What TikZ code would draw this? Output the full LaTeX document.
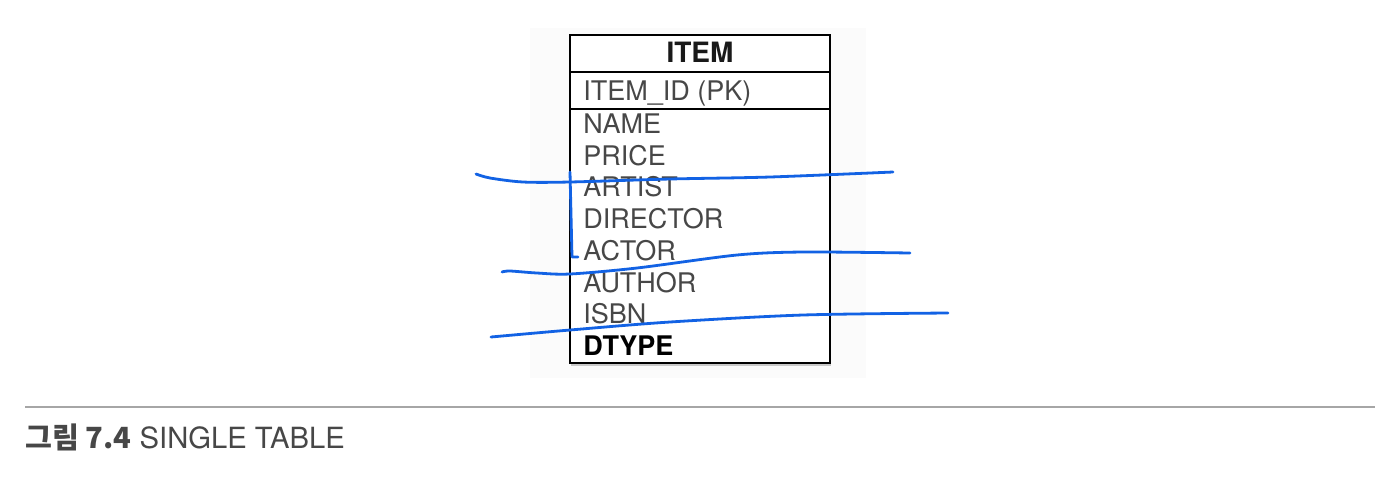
\documentclass[tikz,border=0pt]{standalone}
\usepackage{fontspec}
\setmainfont{TeX Gyre Heros}
\newfontfamily\krfont{Noto Sans CJK KR}
\usetikzlibrary{shadows}
\definecolor{penblue}{RGB}{18,98,228}

\begin{document}
\begin{tikzpicture}[x=0.5pt,y=-0.5pt,
        field/.style={anchor=base west,inner sep=0pt,font=\fontsize{13.5}{14}\selectfont,text=black!72},
        pen/.style={draw=penblue,line width=1.4pt,line cap=round,line join=round}]
        \useasboundingbox[fill=white] (0,0) rectangle (1390,478);
        % table
        \fill[black!1.5] (530,28) rectangle (866,378);
        \node (item) [draw,line width=0.9pt,fill=white,minimum width=130pt,minimum height=164pt,inner sep=0pt,
            drop shadow={opacity=0.4,shadow xshift=0.7pt,shadow yshift=-1.5pt}] at (700,199) {};
        \draw[line width=0.9pt] (570,72) -- (830,72);
        \draw[line width=0.9pt] (570,109) -- (830,109);
        \node (title) [anchor=base,inner sep=0pt,font=\fontsize{14}{15}\selectfont\bfseries,text=black!90] at (700,62) {ITEM};
        \node (pk) [field] at (583,100) {ITEM\_ID (PK)};
        \foreach \name [count=\i from 0] in {NAME,PRICE,ARTIST,DIRECTOR,ACTOR,AUTHOR,ISBN}
            \node (row-\i) [field] at (583,133.5+31.7*\i) {\name};
        \node (dtype) [field,text=black,font=\fontsize{13.5}{14}\selectfont\bfseries] at (583,355) {DTYPE};
        % pen strokes
        \draw[pen] plot[smooth] coordinates {(476,174) (490,178) (523,182) (570,182) (670,179) (770,177) (893,172)};
        \draw[pen] (570,172) -- (572,257) -- (578,257);
        \draw[pen] plot[smooth] coordinates {(502,272) (510,271) (537,273) (570,274) (637,268) (737,255) (803,252) (910,253)};
        \draw[pen] plot[smooth] coordinates {(491,337) (570,330) (670,322) (803,315) (948,313)};
        % caption
        \draw[black!35,line width=1pt] (25,407) -- (1375,407);
        \node (caption) [anchor=base west,inner sep=0pt,font=\fontsize{14.6}{16}\selectfont,text=black!72] at (25,448)
            {{\krfont\bfseries 그림 7.4} SINGLE TABLE};
    \end{tikzpicture}
\end{document}
